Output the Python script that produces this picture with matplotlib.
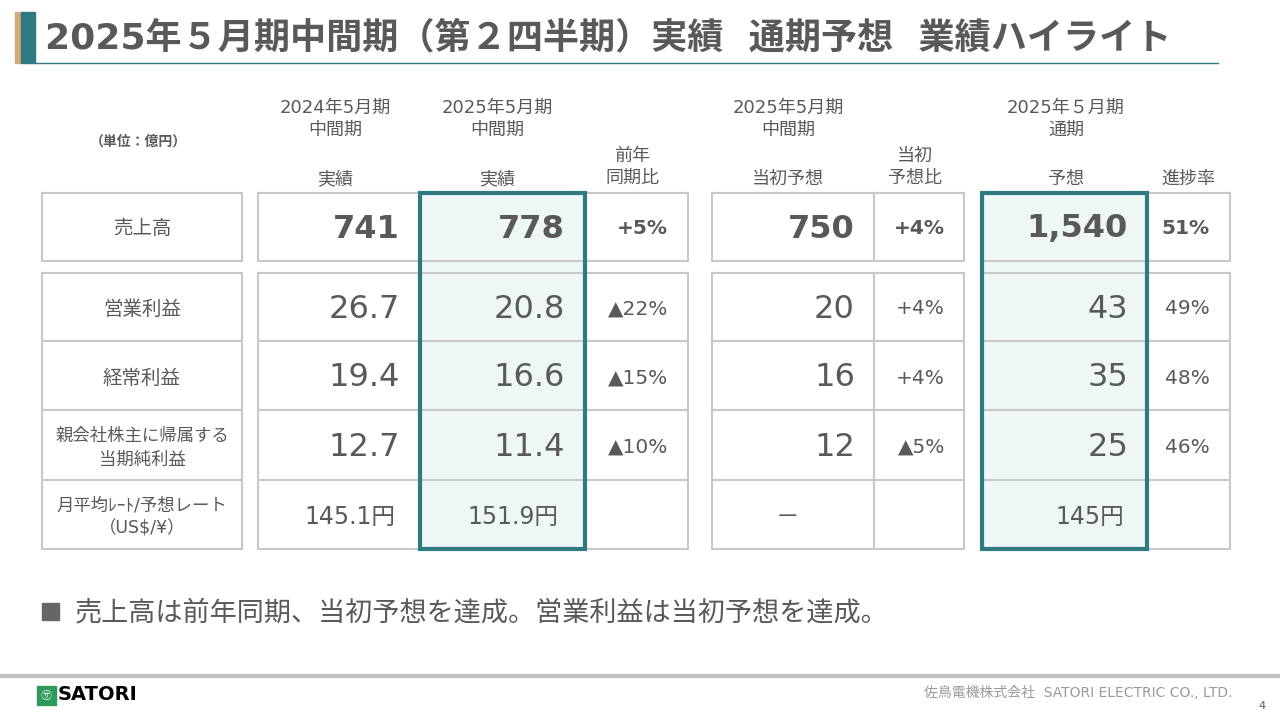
import matplotlib.pyplot as plt
from matplotlib.patches import Rectangle

plt.rcParams["font.family"] = ["DejaVu Sans", "Noto Sans CJK JP"]

title = "2025年５月期中間期（第２四半期）実績  通期予想  業績ハイライト"
unit_label = "（単位：億円）"
row_labels = ["売上高", "営業利益", "経常利益", "親会社株主に帰属する\n当期純利益", "月平均ﾚｰﾄ/予想レート\n（US$/¥）"]

prev_actual = ["741", "26.7", "19.4", "12.7", "145.1円"]
curr_actual = ["778", "20.8", "16.6", "11.4", "151.9円"]
yoy = ["+5%", "▲22%", "▲15%", "▲10%", ""]
init_plan = ["750", "20", "16", "12", "－"]
plan_ratio = ["+4%", "+4%", "+4%", "▲5%", ""]
full_plan = ["1,540", "43", "35", "25", "145円"]
progress = ["51%", "49%", "48%", "46%", ""]

fig = plt.figure(figsize=(12.8, 7.2), dpi=100)
ax = fig.add_axes([0, 0, 1, 1])
ax.set_xlim(0, 1280)
ax.set_ylim(720, 0)
ax.axis("off")

gray = "#595959"
teal = "#2e7a80"
line = "#c8c8c8"

# title
ax.add_patch(Rectangle((15, 12), 6, 51, color="#d4a97a"))
ax.add_patch(Rectangle((21, 12), 14, 51, color=teal))
ax.plot([35, 1218], [63, 63], color=teal, lw=1)
ax.text(45, 38, title, fontsize=26, fontweight="bold", color=gray, va="center")

# headers
hdr = dict(fontsize=13, color=gray, ha="center", va="center")
ax.text(138, 142, unit_label, fontsize=10, fontweight="bold", color=gray, ha="center", va="center")
ax.text(335, 119, "2024年5月期\n中間期", linespacing=1.3, **hdr)
ax.text(497, 119, "2025年5月期\n中間期", linespacing=1.3, **hdr)
ax.text(788, 119, "2025年5月期\n中間期", linespacing=1.3, **hdr)
ax.text(1066, 119, "2025年５月期\n通期", linespacing=1.3, **hdr)
ax.text(335, 179, "実績", **hdr)
ax.text(497, 179, "実績", **hdr)
ax.text(632, 167, "前年\n同期比", linespacing=1.3, **hdr)
ax.text(788, 179, "当初予想", **hdr)
ax.text(915, 167, "当初\n予想比", linespacing=1.3, **hdr)
ax.text(1066, 179, "予想", **hdr)
ax.text(1188, 179, "進捗率", **hdr)

rows_y = [(193, 261), (273, 341), (342, 410), (411, 480), (481, 549)]
groups = [[42, 242], [258, 420, 585, 688], [712, 874, 964], [982, 1147, 1230]]

# highlight columns
for x0, x1 in [(420, 585), (982, 1147)]:
    ax.add_patch(Rectangle((x0, 193), x1 - x0, 356, facecolor="#eef6f6", edgecolor="none", zorder=0))

# grid lines
for g in groups:
    for block in [[rows_y[0]], rows_y[1:]]:
        top, bot = block[0][0], block[-1][1]
        for x in g:
            ax.plot([x, x], [top, bot], color=line, lw=1.5, zorder=1)
        ys = [top] + [r[1] for r in block]
        for y in ys:
            ax.plot([g[0], g[-1]], [y, y], color=line, lw=1.5, zorder=1)

for x0, x1 in [(420, 585), (982, 1147)]:
    ax.add_patch(Rectangle((x0, 193), x1 - x0, 356, facecolor="none", edgecolor=teal, lw=3, zorder=3))

# cells
for i, (top, bot) in enumerate(rows_y):
    yc = (top + bot) / 2 + 2
    first = i == 0
    fs_lab = 14 if i < 3 else 12.5
    ax.text(142, yc, row_labels[i], fontsize=fs_lab, color=gray, ha="center", va="center", linespacing=1.4)
    if i < 4:
        w = "bold" if first else "normal"
        big = 23
        ax.text(400, yc, prev_actual[i], fontsize=big, fontweight=w, color=gray, ha="right", va="center")
        ax.text(565, yc, curr_actual[i], fontsize=big, fontweight=w, color=gray, ha="right", va="center")
        ax.text(855, yc, init_plan[i], fontsize=big, fontweight=w, color=gray, ha="right", va="center")
        ax.text(1128, yc, full_plan[i], fontsize=big, fontweight=w, color=gray, ha="right", va="center")
        ax.text(668, yc, yoy[i], fontsize=14.5, fontweight=w, color=gray, ha="right", va="center")
        ax.text(945, yc, plan_ratio[i], fontsize=14.5, fontweight=w, color=gray, ha="right", va="center")
        ax.text(1210, yc, progress[i], fontsize=14.5, fontweight=w, color=gray, ha="right", va="center")
    else:
        ax.text(350, yc, prev_actual[i], fontsize=17, color=gray, ha="center", va="center")
        ax.text(513, yc, curr_actual[i], fontsize=17, color=gray, ha="center", va="center")
        ax.text(788, yc, init_plan[i], fontsize=17, color=gray, ha="center", va="center")
        ax.text(1090, yc, full_plan[i], fontsize=17, color=gray, ha="center", va="center")

# comment
ax.add_patch(Rectangle((42, 603), 17, 17, color="#666666"))
ax.text(75, 613, "売上高は前年同期、当初予想を達成。営業利益は当初予想を達成。", fontsize=19.5, color=gray, va="center")

# footer
ax.plot([0, 1280], [676, 676], color="#c0c0c0", lw=3)
ax.add_patch(Rectangle((37, 686), 19, 19, color="#2e9a5a"))
ax.text(46.5, 695.5, "㋚", fontsize=8, color="white", ha="center", va="center")
ax.text(58, 695, "SATORI", fontsize=14, fontweight="bold", color="black", va="center")
ax.text(1233, 693, "佐鳥電機株式会社  SATORI ELECTRIC CO., LTD.", fontsize=10, color="#9a9a9a", ha="right", va="center")
ax.text(1262, 706, "4", fontsize=8, color=gray, ha="center", va="center")

fig.savefig("out.png", dpi=100)
